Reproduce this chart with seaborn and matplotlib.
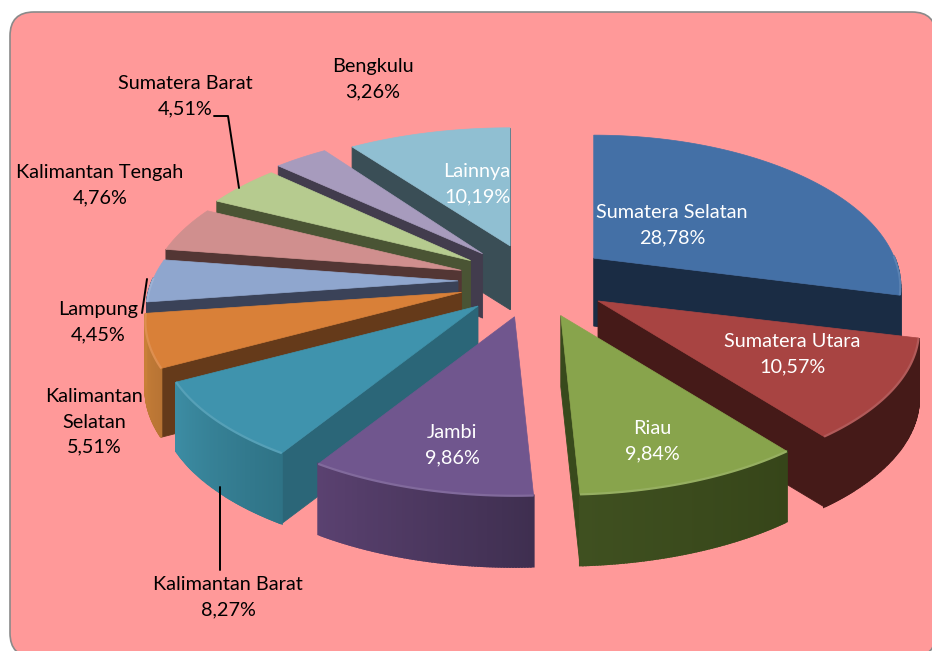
import numpy as np
import matplotlib
matplotlib.use("Agg")
import matplotlib.pyplot as plt
from matplotlib.patches import FancyBboxPatch
import seaborn as sns

# data, clockwise from twelve o'clock
labels = ["Sumatera Selatan", "Sumatera Utara", "Riau", "Jambi", "Kalimantan Barat",
          "Kalimantan Selatan", "Lampung", "Kalimantan Tengah", "Sumatera Barat",
          "Bengkulu", "Lainnya"]
shares = [28.78, 10.57, 9.84, 9.86, 8.27, 5.51, 4.45, 4.76, 4.51, 3.26, 10.19]

top_colors = ["#4470A6", "#A84442", "#88A44C", "#70568E", "#3F93AD", "#D98038",
              "#8FA6CE", "#D08F8E", "#B6CB8F", "#A79BBD", "#90BFD2"]
cut_colors = ["#1A2C44", "#451A18", "#384A1C", "#3F2F50", "#2B6678", "#653A1A",
              "#3A4258", "#533634", "#4A5434", "#423C4D", "#3A4E56"]
rim_start = ["#1A2C44", "#451A18", "#364519", "#3F2F50", "#2F7386", "#B87434",
             "#3A4258", "#533634", "#4A5434", "#423C4D", "#3A4E56"]
rim_end = ["#1A2C44", "#451A18", "#3F5020", "#5A4170", "#3C8CA3", "#C98038",
           "#3A4258", "#533634", "#4A5434", "#423C4D", "#3A4E56"]
# horizontal and vertical stretch of each slice, they are not quite the same size
stretch = [0.955, 1, 1, 0.99, 0.99, 0.985, 0.97, 0.975, 0.975, 1, 1]
squash = [1, 1, 1, 1, 1, 1, 1, 1, 1, 1, 0.96]
# back to front
draw_order = [0, 10, 9, 8, 7, 6, 5, 4, 1, 2, 3]

# projection of the tilted pie, in pixels
cx, cy = 534, 281
ex, ey = 76, 37

sns.set_theme(style="white")
plt.rcParams["font.family"] = ["Lato", "DejaVu Sans"]
palette = sns.color_palette(top_colors)

fig, ax = plt.subplots(figsize=(9.32, 6.51), dpi=100)
fig.subplots_adjust(0, 0, 1, 1)
ax.set_xlim(0, 932)
ax.set_ylim(651, 0)
ax.axis("off")
fig.patch.set_facecolor("white")

ax.add_patch(FancyBboxPatch((10, 12), 926, 645, boxstyle="round,pad=0,rounding_size=24",
                            fc="#FF9999", ec="#8A8A8A", lw=1.2, zorder=0))


def project(apex, th, r=1.0, down=False, k=1.0, q=1.0):
    c, s = np.cos(th), np.sin(th)
    x = apex[0] + r * k * 315 * (1 - 0.2 * c) * s
    y = apex[1] - r * q * (151 - 28 * c) * c
    if down:
        y = y + 67 - 4 * c
    return x, y


def mix(a, b, t):
    a, b = np.array(matplotlib.colors.to_rgb(a)), np.array(matplotlib.colors.to_rgb(b))
    return a + (b - a) * t


def draw_wedge(i, t1, t2):
    mid = (t1 + t2) / 2
    k, q = stretch[i], squash[i]
    apex = (cx + ex * np.sin(mid), cy - ey * np.cos(mid))
    arc = np.linspace(t1, t2, 80)
    ax_, ay_ = project(apex, arc, k=k, q=q)

    # cut faces that look towards the viewer
    for t, visible in ((t1, -np.sin(t1) > 0), (t2, np.sin(t2) > 0)):
        if visible:
            x0, y0 = project(apex, t, 0.0, k=k, q=q)
            x1, y1 = project(apex, t, 0.0, down=True, k=k, q=q)
            x2, y2 = project(apex, t, 1.0, down=True, k=k, q=q)
            x3, y3 = project(apex, t, 1.0, k=k, q=q)
            ax.fill([x0, x1, x2, x3], [y0, y1, y2, y3], color=cut_colors[i], lw=0.6)

    # outer wall, only the front half shows
    front = arc[np.cos(arc) < 0.02]
    if len(front) > 1:
        for j in range(len(front) - 1):
            a, b = front[j], front[j + 1]
            xa, ya = project(apex, a, k=k, q=q)
            xb, yb = project(apex, b, k=k, q=q)
            xc, yc = project(apex, b, down=True, k=k, q=q)
            xd, yd = project(apex, a, down=True, k=k, q=q)
            col = mix(rim_start[i], rim_end[i], j / (len(front) - 2 or 1))
            ax.fill([xa, xb, xc, xd], [ya, yb, yc, yd], color=col, lw=1.5)

    # top face
    ax.fill(np.r_[apex[0], ax_], np.r_[apex[1], ay_], color=palette[i], lw=0.5)

    # bevel along the rim
    if len(front) > 1:
        fx, fy = project(apex, front, k=k, q=q)
        ax.plot(fx, fy, color=mix(top_colors[i], "#FFFFFF", 0.12), lw=1.6,
                solid_capstyle="butt")


edges = np.r_[0, np.cumsum(shares)] / sum(shares) * 2 * np.pi
for i in draw_order:
    draw_wedge(i, edges[i], edges[i + 1])

# leader lines
ax.plot([214, 228, 239], [116, 116, 188], color="black", lw=1.4, zorder=4)
ax.plot([147, 142], [279, 313], color="black", lw=1.4, zorder=4)
ax.plot([220, 220], [487, 570], color="black", lw=1.4, zorder=4)

# outside labels
black_text = [
    (373, 79, "Bengkulu\n3,26%"),
    (185, 96, "Sumatera Barat\n4,51%"),
    (100, 185, "Kalimantan Tengah\n4,76%"),
    (98, 322, "Lampung\n4,45%"),
    (94, 422, "Kalimantan\nSelatan\n5,51%"),
    (228, 597, "Kalimantan Barat\n8,27%"),
]
for x, y, s in black_text:
    ax.text(x, y, s, ha="center", va="center", fontsize=14.3, color="black",
            linespacing=1.58, zorder=5)

# labels on the slices
white_text = [
    (477, 184, "Lainnya\n10,19%"),
    (672, 225, "Sumatera Selatan\n28,78%"),
    (792, 354, "Sumatera Utara\n10,57%"),
    (652, 441, "Riau\n9,84%"),
    (452, 445, "Jambi\n9,86%"),
]
for x, y, s in white_text:
    ax.text(x, y, s, ha="center", va="center", fontsize=14.3, color="white",
            linespacing=1.58, zorder=5)

fig.savefig("out.png", dpi=100, facecolor="white")
